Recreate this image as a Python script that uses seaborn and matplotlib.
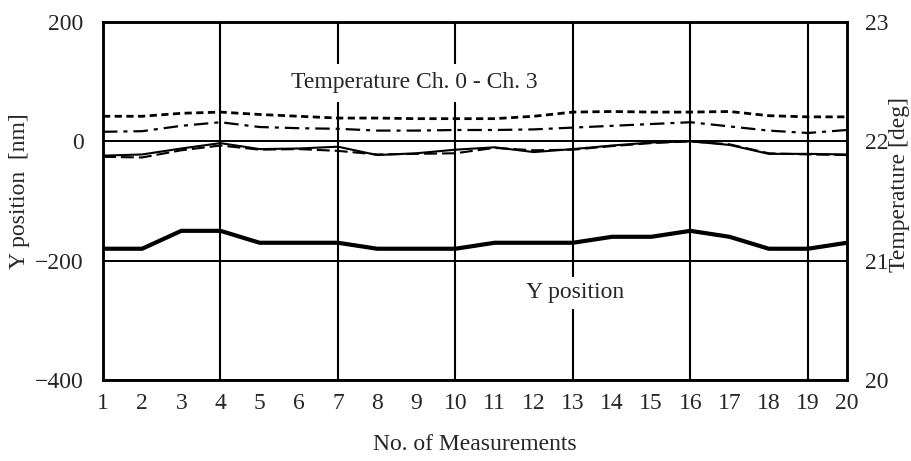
import matplotlib
matplotlib.use("Agg")
import matplotlib.pyplot as plt
import seaborn as sns
import pandas as pd

# ---- data ----
measurements = list(range(1, 21))
y_position = [-180, -180, -150, -150, -170, -170, -170, -180, -180, -180,
              -170, -170, -170, -160, -160, -150, -160, -180, -180, -170]
temp_ch0 = [22.21, 22.21, 22.235, 22.245, 22.225, 22.21, 22.195, 22.195, 22.19, 22.19,
            22.19, 22.21, 22.245, 22.25, 22.245, 22.245, 22.25, 22.215, 22.205, 22.205]
temp_ch1 = [22.08, 22.085, 22.13, 22.16, 22.12, 22.11, 22.105, 22.09, 22.09, 22.095,
            22.095, 22.10, 22.115, 22.13, 22.145, 22.16, 22.125, 22.09, 22.07, 22.095]
temp_ch2 = [21.88, 21.89, 21.94, 21.985, 21.935, 21.94, 21.955, 21.885, 21.90, 21.93,
            21.95, 21.91, 21.935, 21.965, 21.99, 22.0, 21.97, 21.895, 21.895, 21.89]
temp_ch3 = [21.87, 21.865, 21.925, 21.965, 21.93, 21.935, 21.92, 21.89, 21.895, 21.90,
            21.945, 21.925, 21.93, 21.96, 21.985, 22.0, 21.975, 21.9, 21.89, 21.885]
x_ticks = list(range(1, 21))
x_grid = [4, 7, 10, 13, 16, 19]
y_ticks = [-400, -200, 0, 200]
t_ticks = [20, 21, 22, 23]

df = pd.DataFrame({"n": measurements, "y": y_position,
                   "t0": temp_ch0, "t1": temp_ch1, "t2": temp_ch2, "t3": temp_ch3})

sns.set_style("white")
plt.rcParams["font.family"] = ["Liberation Serif", "DejaVu Serif"]

fig = plt.figure(figsize=(9.11, 4.61), dpi=100)
ax = fig.add_axes([103 / 911, 1 - 380 / 461, (847 - 103) / 911, (380 - 22) / 461])
ax2 = ax.twinx()

# Y position
sns.lineplot(data=df, x="n", y="y", ax=ax, color="black", linewidth=3.0)

# temperatures
sns.lineplot(data=df, x="n", y="t0", ax=ax2, color="black", linewidth=2.0,
             linestyle=(0, (2.6, 1.6)))
sns.lineplot(data=df, x="n", y="t1", ax=ax2, color="black", linewidth=1.6,
             linestyle=(0, (6.5, 2.7, 1.8, 2.7)))
sns.lineplot(data=df, x="n", y="t2", ax=ax2, color="black", linewidth=1.5)
sns.lineplot(data=df, x="n", y="t3", ax=ax2, color="black", linewidth=1.5,
             linestyle=(0, (6.2, 2.4)))

ax.set_xlim(1, 20)
ax.set_ylim(-400, 200)
ax2.set_ylim(20, 23)

ax.xaxis.remove_overlapping_locs = False
ax.set_xticks(x_ticks)
ax.set_xticks(x_grid, minor=True)
ax.set_yticks(y_ticks)
ax.set_yticklabels([str(v).replace("-", "\u2212") for v in y_ticks])
ax2.set_yticks(t_ticks)

ax.set_axisbelow(True)
ax.grid(False)
ax.xaxis.grid(True, which="minor", color="black", linewidth=1.5)
ax.yaxis.grid(True, which="major", color="black", linewidth=1.4)

fs = 17
ax.tick_params(axis="both", which="both", length=0, labelsize=fs)
ax.tick_params(axis="x", pad=9)
ax.tick_params(axis="y", pad=14)
ax2.tick_params(axis="y", length=0, labelsize=fs, pad=13)

for a in (ax, ax2):
    for s in a.spines.values():
        s.set_linewidth(1.8)
        s.set_color("black")

ax.set_xlabel("No. of Measurements", fontsize=fs, labelpad=15)
ax.set_ylabel("Y position  [nm]", fontsize=fs)
ax2.set_ylabel("Temperature [deg]", fontsize=fs)
ax.yaxis.set_label_coords(-0.098, 0.528)
ax2.yaxis.set_label_coords(1.057, 0.545)

ax.text(8.94, 98, "Temperature Ch. 0 - Ch. 3", fontsize=fs, ha="center", va="center",
        bbox=dict(facecolor="white", edgecolor="none", pad=6), zorder=3)
ax.text(13.05, -254, "Y position", fontsize=fs, ha="center", va="center",
        bbox=dict(facecolor="white", edgecolor="none", pad=4), zorder=3)

fig.savefig("out.png", dpi=100)
